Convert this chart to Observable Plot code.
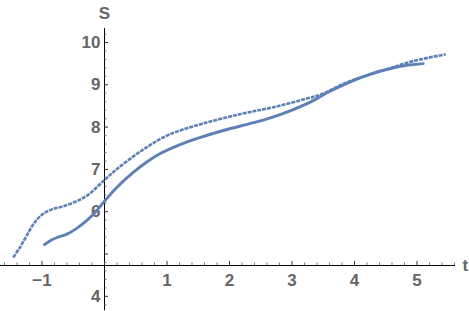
<!DOCTYPE html>
<html>
<head>
<meta charset="utf-8">
<script src="https://cdn.jsdelivr.net/npm/d3@7"></script>
<script src="https://cdn.jsdelivr.net/npm/@observablehq/plot@0.6"></script>
<style>
  body { margin: 0; background: #fff; }
  svg { overflow: visible; }
</style>
</head>
<body>
<div id="chart"></div>
<script>
// Solid curve (t, S)
const solidT = [-0.96, -0.85, -0.76, -0.6, -0.45, -0.3, -0.15, 0, 0.2, 0.45, 0.7, 0.9, 1.2, 1.5, 1.9, 2.4, 2.8, 3.25, 3.6, 4.15, 4.68, 5.1];
const solidS = [5.22, 5.33, 5.39, 5.47, 5.6, 5.77, 5.98, 6.25, 6.58, 6.92, 7.2, 7.38, 7.58, 7.74, 7.92, 8.11, 8.29, 8.56, 8.84, 9.2, 9.42, 9.5];
// Dashed curve (t, S)
const dashT = [-1.46, -1.36, -1.25, -1.13, -1.0, -0.85, -0.68, -0.49, -0.28, 0, 0.2, 0.58, 1.0, 1.54, 2.18, 2.7, 3.25, 3.46, 3.88, 4.42, 4.94, 5.46];
const dashS = [4.92, 5.14, 5.42, 5.72, 5.93, 6.05, 6.12, 6.22, 6.38, 6.75, 7.01, 7.43, 7.80, 8.07, 8.31, 8.47, 8.68, 8.77, 9.06, 9.32, 9.56, 9.72];

// Axis ticks
const xTicks = [-1, 1, 2, 3, 4, 5];
const xTickLabels = ["−1", "1", "2", "3", "4", "5"];
const yTicks = [4, 6, 7, 8, 9, 10];
const yTickLabels = ["4", "6", "7", "8", "9", "10"];
const xAxisAt = 4.728; // S value where the t axis crosses
const yAxisAt = 0;     // t value where the S axis sits
const xMinor = d3.range(-1.6, 5.61, 0.2).map(v => Math.round(v * 10) / 10).filter(v => Math.abs(v - Math.round(v)) > 1e-6);
const xMajor = d3.range(-1, 6, 1);
const yMinor = d3.range(3.8, 10.31, 0.2).map(v => Math.round(v * 10) / 10).filter(v => Math.abs(v - Math.round(v)) > 1e-6);
const yMajor = d3.range(4, 11, 1);

const solid = solidT.map((t, i) => ({t, S: solidS[i]}));
const dashed = dashT.map((t, i) => ({t, S: dashS[i]}));

const color = "#5E81B5";
const labelColor = "#666666";
const font = "Liberation Sans, Arial, sans-serif";
const pxPerT = 62.5, pxPerS = 42.3;
const fs = 17;

const chart = Plot.plot({
  width: 469,
  height: 311,
  marginLeft: 0,
  marginRight: 14,
  marginTop: 28,
  marginBottom: 0,
  x: {domain: [-1.664, 5.616], axis: null},
  y: {domain: [3.641, 10.331], axis: null},
  style: {background: "white", fontFamily: font},
  marks: [
    // axis lines
    Plot.ruleY([xAxisAt], {x1: -1.664, x2: 5.616, stroke: "black", strokeWidth: 1}),
    Plot.ruleX([yAxisAt], {y1: 3.66, y2: 10.331, stroke: "black", strokeWidth: 1}),
    // x ticks
    Plot.ruleX(xMajor, {x: d => d, y1: xAxisAt, y2: xAxisAt + 4 / pxPerS, stroke: "#333", strokeWidth: 1}),
    Plot.ruleX(xMinor, {x: d => d, y1: xAxisAt, y2: xAxisAt + 2.5 / pxPerS, stroke: "#555", strokeWidth: 0.8}),
    // y ticks
    Plot.ruleY(yMajor, {y: d => d, x1: yAxisAt, x2: yAxisAt + 4 / pxPerT, stroke: "#333", strokeWidth: 1}),
    Plot.ruleY(yMinor, {y: d => d, x1: yAxisAt, x2: yAxisAt + 2.5 / pxPerT, stroke: "#555", strokeWidth: 0.8}),
    // tick labels
    Plot.text(xTicks, {x: d => d, y: xAxisAt, text: (d, i) => xTickLabels[i], dy: 15, fill: labelColor, fontSize: fs, fontWeight: "bold"}),
    Plot.text(yTicks, {x: yAxisAt, y: d => d, text: (d, i) => yTickLabels[i], dx: -4, textAnchor: "end", fill: labelColor, fontSize: fs, fontWeight: "bold"}),
    // axis labels
    Plot.text(["S"], {x: yAxisAt, y: 10.331, text: d => d, dy: -15, fill: labelColor, fontSize: fs, fontWeight: "bold"}),
    Plot.text(["t"], {x: 5.616, y: xAxisAt, text: d => d, dx: 7, textAnchor: "start", fill: labelColor, fontSize: fs, fontWeight: "bold"}),
    // curves
    Plot.line(dashed, {x: "t", y: "S", stroke: color, strokeWidth: 2.6, strokeDasharray: "4,1", strokeLinecap: "butt", curve: "catmull-rom"}),
    Plot.line(solid, {x: "t", y: "S", stroke: color, strokeWidth: 2.9, curve: "catmull-rom"})
  ]
});
document.getElementById("chart").appendChild(chart);
</script>
</body>
</html>
